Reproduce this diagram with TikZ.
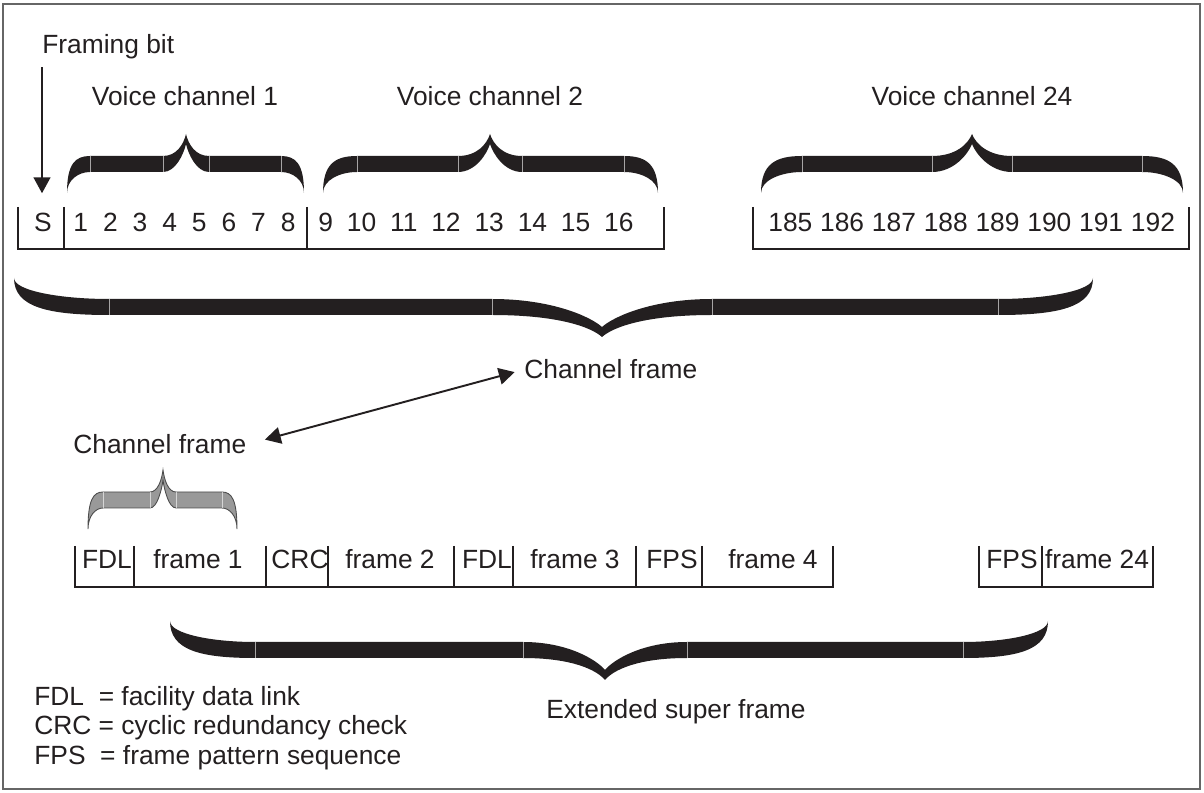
\documentclass[tikz,border=0pt]{standalone}
\usepackage{fontspec}
\setmainfont{Liberation Sans}
\usetikzlibrary{arrows.meta,positioning}
\definecolor{ink}{RGB}{35,31,32}
\tikzset{
    %Define standard arrow tip
    >={Triangle[length=9pt,width=9.5pt]},
    %Define style for text labels
    lbl/.style={
           text=ink,
           inner sep=0pt,
           font=\fontsize{15}{18}\selectfont},
    %Define style for the bit rows
    row/.style={
           draw=ink,
           line width=1pt},
    % Define arrow style
    pil/.style={
           ->,
           draw=ink,
           line width=1.1pt},
    % Define brace fills
    bracefill/.style={fill=ink},
    graybrace/.style={fill=gray!80, draw=black!70, line width=0.5pt}
}
% spread the numbers of one voice channel
\newcommand{\digitrow}[2]{{\spaceskip=#1\relax #2}}
% filled curly brace: [style]{left x}{tip x}{right x}{bar y at tip side}{-1 up / 1 down}{end radius}{tip radius}
\newcommand{\fatbrace}[8][bracefill]{%
  \begin{scope}[shift={(0,#5)}, yscale=#6]
    \path[#1] (#2,-37) .. controls (#2,-8) and ({#2+0.35*#7},0) .. ({#2+#7},0)
      -- ({#3-#8},0) .. controls ({#3-0.4*#8},0) and ({#3-0.1*#8},12) .. (#3,22)
      .. controls ({#3+0.1*#8},12) and ({#3+0.4*#8},0) .. ({#3+#8},0)
      -- ({#4-#7},0) .. controls ({#4-0.35*#7},0) and (#4,-8) .. (#4,-37)
      .. controls (#4,-24) and ({#4-0.5*#7},-16) .. ({#4-#7},-16)
      -- ({#3+#8},-16) .. controls ({#3+0.45*#8},-16) and ({#3+0.1*#8},2) .. (#3,12)
      .. controls ({#3-0.1*#8},2) and ({#3-0.45*#8},-16) .. ({#3-#8},-16)
      -- ({#2+#7},-16) .. controls ({#2+0.5*#7},-16) and (#2,-24) .. (#2,-37) -- cycle;
    \draw[white, opacity=0.6, line width=0.3pt]
      ({#2+#7},0) -- ({#2+#7},-16) ({#3-#8},0) -- ({#3-#8},-16)
      ({#3+#8},0) -- ({#3+#8},-16) ({#4-#7},0) -- ({#4-#7},-16);
  \end{scope}}

\begin{document}
\begin{tikzpicture}[x=0.02cm, y=-0.02cm]
    \useasboundingbox (0,0) rectangle (1204,793);
    \draw[black!60, line width=0.6pt] (3,4) rectangle (1200,789);
    % channel frame
    \node[lbl, anchor=base west] (fbit) at (42,54) {Framing bit};
    \node[lbl, anchor=base] (vc1) at (185,106) {Voice channel 1};
    \node[lbl, anchor=base] (vc2) at (490,106) {Voice channel 2};
    \node[lbl, anchor=base] (vc24) at (972,106) {Voice channel 24};
    \fatbrace{67}{186}{304}{156}{-1}{23}{23}
    \fatbrace{323}{490}{658}{156}{-1}{34}{32}
    \fatbrace{761}{972}{1183}{156}{-1}{41}{40}
    \node[lbl, anchor=base] (sbit) at (43,232) {S};
    \node[lbl, anchor=base west] (ch1) at (73,232) {\digitrow{0.3cm}{1 2 3 4 5 6 7 8}};
    \node[lbl, anchor=base west] (ch2) at (318,232) {\digitrow{0.278cm}{9 10 11 12 13 14 15 16}};
    \node[lbl, anchor=base west] (ch24) at (768,232) {\digitrow{0.157cm}{185 186 187 188 189 190 191 192}};
    \draw[row] (18,207) -- (18,249) -- (664,249) -- (664,207);
    \draw[row] (64,207) -- (64,249) (307,207) -- (307,249);
    \draw[row] (753,207) -- (753,249) -- (1189,249) -- (1189,207);
    \draw[pil, shorten <=0.15cm, shorten >=0.4cm] (fbit.south west) -- (fbit.south west |- sbit.north);
    \fatbrace{14}{602}{1093}{315}{1}{95}{110}
    \node[lbl, anchor=base west] (cfup) at (524,379) {Channel frame};
    % extended super frame
    \node[lbl, anchor=base west] (cflow) at (73,454) {Channel frame};
    \draw[pil, <->, shorten <=10.8pt, shorten >=5.5pt] (cflow.east) -- (cfup.west);
    \fatbrace[graybrace]{88}{163}{237}{492}{-1}{15}{13}
    \node[lbl, anchor=base] (fdl1) at (107,569) {FDL};
    \node[lbl, anchor=base] (fr1) at (198,569) {frame 1};
    \node[lbl, anchor=base] (crc) at (300,569) {CRC};
    \node[lbl, anchor=base] (fr2) at (390,569) {frame 2};
    \node[lbl, anchor=base] (fdl2) at (487,569) {FDL};
    \node[lbl, anchor=base] (fr3) at (575,569) {frame 3};
    \node[lbl, anchor=base] (fps1) at (672,569) {FPS};
    \node[lbl, anchor=base] (fr4) at (773,569) {frame 4};
    \node[lbl, anchor=base] (fps2) at (1012,569) {FPS};
    \node[lbl, anchor=base] (fr24) at (1097,569) {frame 24};
    \draw[row] (75,546) -- (75,587) -- (833,587) -- (833,546);
    \draw[row] (134,546) -- (134,587) (266,546) -- (266,587) (328,546) -- (328,587)
        (454,546) -- (454,587) (513,546) -- (513,587) (636,546) -- (636,587) (702,546) -- (702,587);
    \draw[row] (979,546) -- (979,587) -- (1153,587) -- (1153,546) (1042,546) -- (1042,587);
    \fatbrace{170}{605}{1048}{658}{1}{85}{82}
    \node[lbl, anchor=base west] (esf) at (546,719) {Extended super frame};
    % legend
    \node[lbl, anchor=base west] (legfdl) at (34,705) {FDL\ \ = facility data link};
    \node[lbl, below=0.6cm of legfdl.base west, anchor=base west] (legcrc) {CRC = cyclic redundancy check};
    \node[lbl, below=0.6cm of legcrc.base west, anchor=base west] (legfps) {FPS\ \ = frame pattern sequence};
\end{tikzpicture}
\end{document}
